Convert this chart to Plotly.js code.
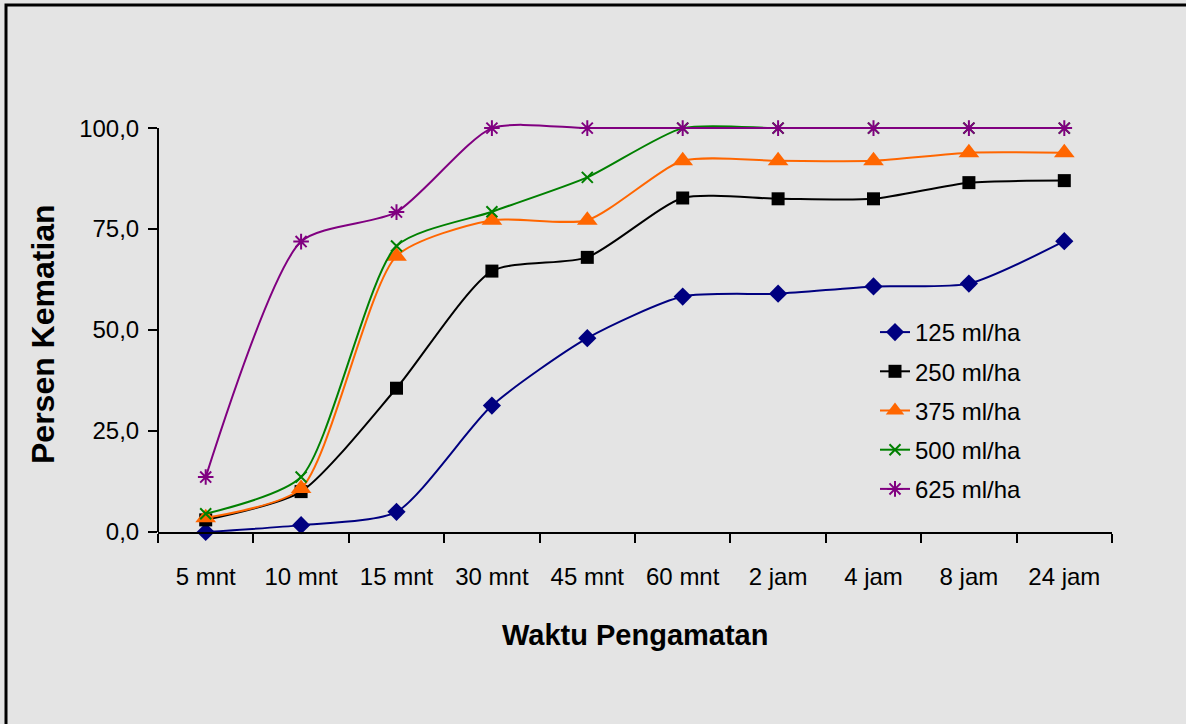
<!DOCTYPE html>
<html>
<head>
<meta charset="utf-8">
<script src="https://cdn.plot.ly/plotly-3.0.1.min.js"></script>
<style>
html,body{margin:0;padding:0;background:#e4e4e4;}
#chart{width:1186px;height:724px;}
</style>
</head>
<body>
<div id="chart"></div>
<script>
const categories = ["5 mnt","10 mnt","15 mnt","30 mnt","45 mnt","60 mnt","2 jam","4 jam","8 jam","24 jam"];
const seriesNames = ["125 ml/ha","250 ml/ha","375 ml/ha","500 ml/ha","625 ml/ha"];
const s125 = [0, 1.7, 5.0, 31.3, 48.0, 58.3, 59.0, 60.8, 61.5, 72.0];
const s250 = [3.0, 10.0, 35.6, 64.6, 68.0, 82.7, 82.5, 82.5, 86.5, 87.0];
const s375 = [3.5, 10.8, 68.3, 77.2, 77.2, 91.9, 91.9, 91.9, 93.9, 93.9];
const s500 = [4.5, 13.6, 70.8, 79.3, 87.8, 100, 100, 100, 100, 100];
const s625 = [13.6, 71.9, 79.2, 100, 100, 100, 100, 100, 100, 100];
const yTickVals = [0, 25, 50, 75, 100];
const yTickText = ["0,0", "25,0", "50,0", "75,0", "100,0"];

const colors = ["#000080", "#000000", "#ff6600", "#008000", "#800080"];
const symbols = ["diamond", "square", "triangle-up", "x-thin-open", "asterisk-open"];
const sizes = [14, 13, 18, 11, 13];
const allSeries = [s125, s250, s375, s500, s625];

const FONT = "Liberation Sans, Arial, sans-serif";

const traces = allSeries.map((vals, i) => ({
  x: categories,
  y: vals,
  name: seriesNames[i],
  type: "scatter",
  mode: "lines+markers",
  legendgroup: "g" + i,
  line: {color: colors[i], width: 2, shape: "spline", smoothing: 0.65},
  marker: {
    symbol: symbols[i],
    size: sizes[i],
    color: colors[i],
    line: {color: colors[i], width: (i >= 3 ? 2 : 0)}
  },
  cliponaxis: false
}));

// plot area pixel geometry
const L = 158, R = 1112, T = 116, B = 532;
const W = R - L, H = B - T;
function px(x){ return (x - L) / W; }
function py(y){ return (B - y) / H; }

const layout = {
  width: 1186, height: 724,
  margin: {l: L, r: 1186 - R, t: T, b: 724 - B, pad: 0},
  paper_bgcolor: "#e4e4e4",
  plot_bgcolor: "#e4e4e4",
  font: {family: FONT, color: "#000", size: 24},
  showlegend: true,
  legend: {
    x: px(875), y: py(310), xanchor: "left", yanchor: "top",
    bgcolor: "rgba(0,0,0,0)",
    font: {family: FONT, size: 24, color: "#000"},
    traceorder: "grouped",
    tracegroupgap: 5,
    itemwidth: 30
  },
  xaxis: {
    type: "category",
    range: [-0.5, 9.5],
    showline: true, linecolor: "#000", linewidth: 2,
    ticks: "outside", ticklen: 9, tickwidth: 2, tickcolor: "#000",
    tickson: "boundaries",
    showgrid: false, zeroline: false,
    tickfont: {family: FONT, size: 24, color: "#000"},
    ticklabelstandoff: 22,
    fixedrange: true
  },
  yaxis: {
    range: [0, 103],
    showline: false,
    ticks: "outside", ticklen: 9, tickwidth: 2, tickcolor: "#000",
    tickvals: yTickVals, ticktext: yTickText,
    showgrid: false, zeroline: false,
    tickfont: {family: FONT, size: 24, color: "#000"},
    ticklabelstandoff: 4,
    fixedrange: true
  },
  shapes: [
    {type: "line", xref: "paper", yref: "y", x0: 0, x1: 0, y0: 0, y1: 100,
     line: {color: "#000", width: 2}},
    {type: "rect", xref: "paper", yref: "paper",
     x0: px(6), x1: px(1195), y0: py(5), y1: py(740),
     line: {color: "#000", width: 3}, fillcolor: "rgba(0,0,0,0)", layer: "below"}
  ],
  annotations: [
    {text: "<b>Waktu Pengamatan</b>", xref: "paper", yref: "paper",
     x: px(635), y: py(635), xanchor: "center", yanchor: "middle",
     showarrow: false, font: {family: FONT, size: 29, color: "#000"}},
    {text: "<b>Persen Kematian</b>", xref: "paper", yref: "paper",
     x: px(43), y: py(334), xanchor: "center", yanchor: "middle", textangle: -90,
     showarrow: false, font: {family: FONT, size: 32, color: "#000"}}
  ]
};

Plotly.newPlot("chart", traces, layout, {displayModeBar: false, staticPlot: true});
</script>
</body>
</html>
